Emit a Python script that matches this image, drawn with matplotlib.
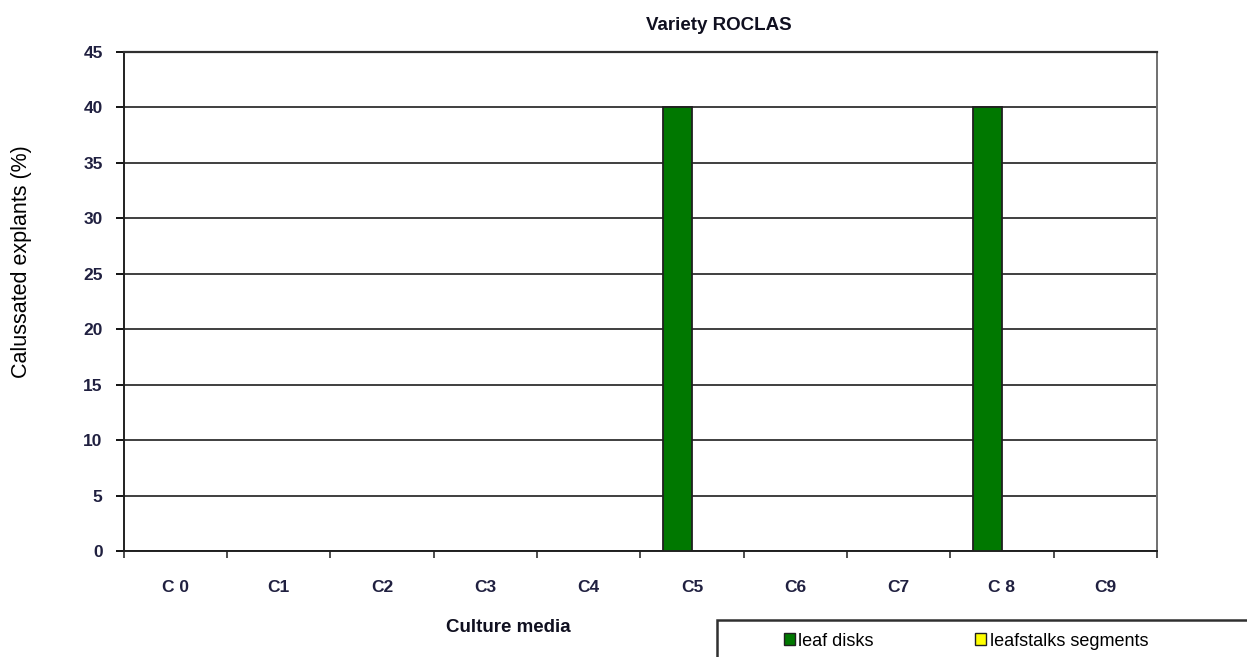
import matplotlib.pyplot as plt
import numpy as np
from matplotlib.patches import Patch, Rectangle

plt.rcParams['font.family'] = ['Liberation Sans', 'DejaVu Sans']

media = ['C0', 'C1', 'C2', 'C3', 'C4', 'C5', 'C6', 'C7', 'C8', 'C9']
tick_labels = ['C 0', 'C1', 'C2', 'C3', 'C4', 'C5', 'C6', 'C7', 'C 8', 'C9']
leaf_disks = [0, 0, 0, 0, 0, 40, 0, 0, 40, 0]
leafstalks = [0, 0, 0, 0, 0, 0, 0, 0, 0, 0]

W, H = 1247, 657
fig = plt.figure(figsize=(W / 100, H / 100), dpi=100)
ax = fig.add_axes([123.5 / W, 1 - 551 / H, 1033.5 / W, 499 / H])

x = np.arange(len(media))
w = 0.28
ax.bar(x - w / 2, leaf_disks, w, color='#007800', edgecolor='#202020', linewidth=1.3, zorder=3)
ax.bar(x + w / 2, leafstalks, w, color='#ffff00', edgecolor='#202020', linewidth=1.0, zorder=3)

ax.set_xlim(-0.5, len(media) - 0.5)
ax.set_ylim(0, 45)
ax.set_yticks(np.arange(0, 46, 5))
ax.yaxis.grid(True, color='#303030', linewidth=1.3)
ax.set_axisbelow(True)

ax.set_xticks(x)
ax.set_xticklabels(tick_labels, fontsize=12.5, fontweight='bold', color='#202040')
ax.set_xticks(np.arange(-0.5, len(media)), minor=True)
ax.tick_params(axis='x', which='major', length=0, pad=21)
ax.tick_params(axis='x', which='minor', length=5, width=1.3, color='#404040')
ax.tick_params(axis='y', length=6, width=1.3, labelsize=12.5, pad=9)
for lab in ax.get_yticklabels():
    lab.set_fontweight('bold')
    lab.set_color('#202040')

for s in ['left', 'bottom']:
    ax.spines[s].set_color('#202020')
    ax.spines[s].set_linewidth(1.4)
ax.spines['right'].set_color('#707070')
ax.spines['right'].set_linewidth(1.4)
ax.spines['top'].set_color('#303030')
ax.spines['top'].set_linewidth(1.6)

fig.text(719 / W, 1 - 25 / H, 'Variety ROCLAS', fontsize=13.5, fontweight='bold',
         ha='center', va='center', color='#101020')
fig.text(508 / W, 1 - 628 / H, 'Culture media', fontsize=13.5, fontweight='bold',
         ha='center', va='center', color='#101020')
fig.text(22 / W, 1 - 262 / H, 'Calussated explants (%)', rotation=90,
         ha='center', va='center', fontsize=15.5)

handles = [Patch(facecolor='#007800', edgecolor='#202020'),
           Patch(facecolor='#ffff00', edgecolor='#202020')]
leg = fig.legend(handles, ['leaf disks', 'leafstalks segments'], loc='center left',
                 bbox_to_anchor=(784 / W, 1 - 641 / H), ncol=2, fontsize=13,
                 handlelength=0.6, handleheight=0.6, handletextpad=0.2, columnspacing=5.6,
                 frameon=False, borderpad=0, borderaxespad=0)
fig.patches.append(Rectangle((717 / W, -0.1), 0.6, 0.1 + 1 - 620 / H, transform=fig.transFigure,
                             fill=False, edgecolor='#303030', linewidth=1.8, clip_on=False))

fig.savefig('out.png', dpi=100)
